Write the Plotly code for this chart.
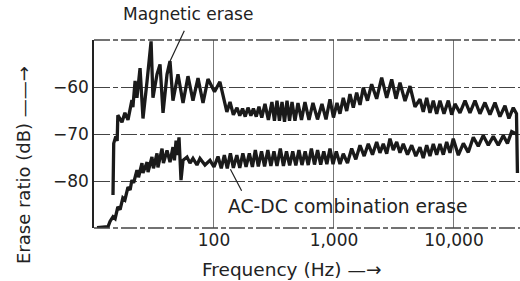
import math
import plotly.graph_objects as go

# ---- data ----
MAG_F = [14.4, 14.6, 15.2, 15.6, 15.8, 17.1, 18.1, 19.2, 20.7, 21.1, 22.0, 22.8, 24.2, 25.6,
         27.7, 29.9, 31.0, 33.5, 35.5, 37.6, 40.6, 43.0, 45.5, 50.1, 55.2, 60.7, 66.8, 73.6,
         81.0, 89.1, 101, 112, 128, 136, 145, 155.5, 164, 173, 182, 192, 203, 213, 225, 237,
         250, 266, 284, 304, 319, 335, 351, 369, 387, 406, 426, 447, 473, 501, 536, 573, 619,
         668, 729, 794, 858, 926, 990, 1059, 1122, 1195, 1276, 1359, 1449, 1545, 1648, 1755,
         1901, 2060, 2268, 2497, 2750, 3027, 3287, 3548, 3908, 4299, 4732, 5208, 5546, 5923,
         6310, 6722, 7174, 7640, 8254, 8966, 9567, 10190, 11220, 12360, 13590, 14960, 16460,
         18110, 19950, 21960, 24150, 26610, 28690, 31200, 33190, 33800]
MAG_DB = [-83.0, -72.0, -70.5, -71.5, -66.0, -67.5, -65.5, -67.0, -62.8, -64.3, -58.7, -62.3,
          -56.0, -66.7, -58.7, -50.3, -62.3, -57.3, -55.2, -65.5, -57.3, -54.5, -62.9, -57.3,
          -63.4, -57.7, -62.9, -58.1, -63.4, -58.3, -61.0, -58.9, -65.3, -63.2, -65.9, -64.4,
          -66.1, -64.6, -66.3, -64.4, -66.1, -64.6, -66.3, -64.2, -66.5, -63.6, -67.0, -63.2,
          -67.2, -62.9, -67.2, -63.2, -67.4, -62.9, -67.2, -63.2, -67.2, -63.4, -67.0, -63.2,
          -67.0, -63.4, -66.9, -63.6, -66.9, -62.6, -66.5, -63.4, -65.7, -62.3, -65.1, -61.5,
          -64.4, -61.2, -63.8, -60.1, -62.9, -59.4, -62.5, -58.0, -62.3, -58.4, -62.5, -59.1,
          -63.0, -59.8, -64.2, -62.6, -65.3, -62.3, -65.5, -62.9, -65.7, -62.9, -65.7, -62.9,
          -65.9, -63.6, -65.5, -62.9, -65.5, -62.9, -65.7, -63.3, -65.9, -63.3, -66.3, -64.0,
          -66.7, -64.4, -65.7, -78.3]

ACDC_F = [10.6, 13.1, 13.6, 14.4, 15.0, 15.8, 16.5, 17.4, 18.1, 19.2, 20.0, 20.7, 21.4, 22.8,
          23.5, 25.1, 25.6, 27.7, 28.2, 30.4, 31.3, 33.5, 34.1, 36.9, 37.9, 40.6, 43.0, 45.5,
          46.8, 48.3, 49.4, 51.1, 53.1, 55.2, 59.6, 63.1, 66.8, 72.1, 76.4, 84.1, 92.6, 100,
          108, 115, 122, 129, 137, 145, 155, 164, 174, 185, 197, 209, 221, 234, 249, 264, 281,
          298, 316, 335, 357, 379, 402, 427, 453, 481, 510, 541, 575, 610, 648, 688, 730, 775,
          822, 872, 926, 982, 1045, 1122, 1195, 1296, 1404, 1520, 1648, 1784, 1932, 2094, 2268,
          2416, 2576, 2750, 2929, 3120, 3331, 3548, 3780, 4098, 4441, 4808, 5208, 5546, 5923,
          6310, 6722, 7174, 7640, 8150, 8690, 9261, 9860, 10870, 11970, 13160, 14490, 15940,
          17540, 19320, 21250, 23390, 25760, 27910, 30270, 33800]
ACDC_DB = [-89.9, -89.7, -88.6, -87.6, -88.0, -85.5, -86.1, -83.6, -84.0, -81.3, -81.9, -79.8,
           -80.4, -77.7, -79.2, -76.2, -78.3, -76.0, -78.1, -74.9, -77.3, -74.1, -77.1, -73.1,
           -76.2, -73.5, -76.0, -72.8, -75.6, -71.4, -74.5, -70.7, -79.8, -75.6, -74.9, -76.2,
           -75.2, -76.6, -75.2, -76.6, -75.6, -77.0, -74.8, -77.3, -74.5, -77.3, -74.1, -77.2,
           -74.5, -77.2, -74.1, -77.0, -74.1, -77.0, -73.4, -76.9, -73.7, -76.9, -73.4, -76.8,
           -73.7, -76.8, -73.1, -76.8, -73.7, -76.7, -73.7, -76.7, -73.4, -76.6, -73.7, -76.6,
           -73.1, -76.5, -73.4, -76.5, -73.7, -76.4, -73.1, -76.4, -73.7, -76.4, -74.2, -76.2,
           -73.1, -75.4, -72.4, -74.7, -72.1, -74.4, -71.7, -74.0, -72.1, -74.2, -71.0, -73.4,
           -71.7, -74.0, -72.1, -74.4, -72.4, -74.7, -72.8, -75.1, -72.4, -74.7, -72.1, -74.4,
           -72.1, -74.4, -71.7, -74.0, -71.0, -74.5, -72.0, -73.9, -70.7, -72.6, -70.3, -72.4,
           -70.5, -72.4, -70.3, -72.0, -69.5, -70.1]

X_TICKS = [100, 1000, 10000]
X_TICK_TEXT = ["100", "1,000", "10,000"]
Y_TICKS = [-80, -70, -60]
Y_TICK_TEXT = ["\u221280", "\u221270", "\u221260"]
X_RANGE_HZ = [10, 35500]
Y_RANGE_DB = [-90, -50]

FONT = "DejaVu Sans"
INK = "#1a1a1a"
TXT = "#222"

fig = go.Figure()
fig.add_trace(go.Scatter(x=MAG_F, y=MAG_DB, mode="lines", name="Magnetic erase",
                         line=dict(color=INK, width=3.3)))
fig.add_trace(go.Scatter(x=ACDC_F, y=ACDC_DB, mode="lines", name="AC-DC combination erase",
                         line=dict(color=INK, width=3.3)))

mag_i = MAG_F.index(43.0)

fig.update_layout(
    width=520, height=281,
    margin=dict(l=94, r=0, t=40, b=53),
    paper_bgcolor="white", plot_bgcolor="white",
    showlegend=False,
    font=dict(family=FONT, color=TXT),
    xaxis=dict(type="log", range=[math.log10(X_RANGE_HZ[0]), math.log10(X_RANGE_HZ[1])],
               tickvals=X_TICKS, ticktext=X_TICK_TEXT, tickfont=dict(size=17),
               showgrid=True, gridcolor="#777", gridwidth=1, ticks="",
               showline=False, zeroline=False, automargin=False),
    yaxis=dict(range=Y_RANGE_DB, tickvals=Y_TICKS, ticktext=Y_TICK_TEXT,
               tickfont=dict(size=17), showgrid=True, gridcolor="#444", gridwidth=1.3,
               griddash="16px,3px,5px,3px", ticks="", showline=True, linecolor="#222",
               linewidth=1.5, zeroline=False, automargin=False),
    shapes=[
        dict(type="line", xref="paper", yref="paper", x0=0, x1=1, y0=1, y1=1,
             line=dict(color="#444", width=1.3, dash="16px,3px,5px,3px")),
        dict(type="line", xref="paper", yref="paper", x0=0, x1=1, y0=0, y1=0,
             line=dict(color="#444", width=1.3, dash="16px,3px,5px,3px")),
    ],
    annotations=[
        dict(text="Magnetic erase", xref="paper", yref="paper", x=0.2207, y=1.138,
             xanchor="center", yanchor="middle",
             showarrow=False, font=dict(size=17, family=FONT, color=TXT)),
        dict(x=math.log10(MAG_F[mag_i]), y=MAG_DB[mag_i], xref="x", yref="y", text="",
             showarrow=True, arrowhead=0, arrowwidth=1.2, arrowcolor=TXT,
             ax=15, ay=-32),
        dict(text="AC-DC combination erase", xref="paper", yref="paper", x=0.597, y=0.112,
             xanchor="center", yanchor="middle",
             showarrow=False, font=dict(size=18.7, family=FONT, color=TXT)),
        dict(x=math.log10(137), y=-77.5, xref="x", yref="y", text="",
             showarrow=True, arrowhead=0, arrowwidth=1.2, arrowcolor=TXT,
             ax=12, ay=23),
        dict(text="Erase ratio (dB) \u2014\u2014\u2192", xref="paper", yref="paper",
             x=-0.1667, y=0.335, xanchor="center", yanchor="middle", textangle=-90,
             showarrow=False, font=dict(size=18, family=FONT, color=TXT)),
        dict(text="Frequency (Hz) \u2014\u2192", xref="paper", yref="paper", x=0.4636, y=-0.223,
             xanchor="center", yanchor="middle",
             showarrow=False, font=dict(size=18.5, family=FONT, color=TXT)),
    ],
)

fig.write_html("out.html", config={"displayModeBar": False},
               post_script="document.body.style.margin='0px';")
